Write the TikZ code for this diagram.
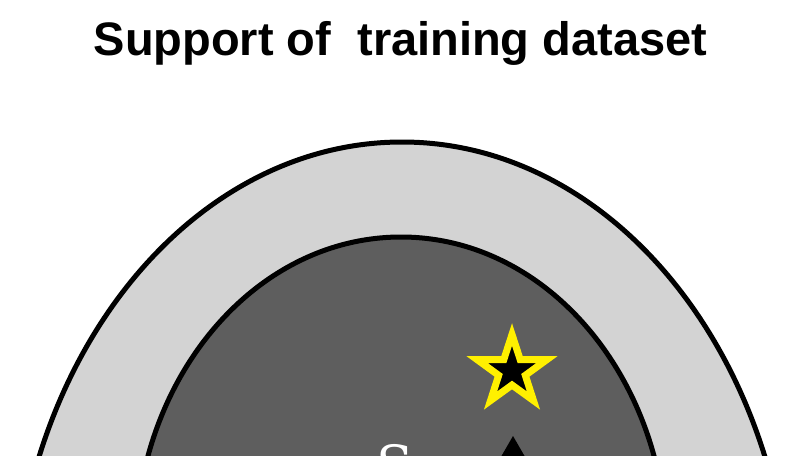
\documentclass[tikz,border=0pt]{standalone}
\usepackage{fontspec}
\newfontfamily\titlefont{Liberation Sans}
\newfontfamily\setfont{DejaVu Serif}
\definecolor{outergray}{RGB}{211,211,211}
\definecolor{innergray}{RGB}{94,94,94}
\definecolor{staryellow}{RGB}{255,240,0}
\begin{document}
\begin{tikzpicture}[x=1pt,y=-1pt,
  region/.style={draw=black,line width=5pt},
  titlestyle/.style={inner sep=0pt,anchor=base,font=\titlefont\bfseries\fontsize{47}{50}\selectfont},
  setstyle/.style={inner sep=0pt,anchor=base,text=white,font=\setfont\fontsize{54}{60}\selectfont},
  starmark/.style={draw=staryellow,fill=black,line width=7pt,miter limit=10},
  trimark/.style={fill=black}]
\useasboundingbox (0,0) rectangle (808,455);
\fill[white] (0,0) rectangle (808,455);
\begin{scope}
\clip (0,0) rectangle (808,455);
\draw[region,fill=outergray] (402,639) ellipse [x radius=390pt,y radius=497pt];
\draw[region,fill=innergray] (401,554) ellipse [x radius=266pt,y radius=317pt];
\node[setstyle] (setlabel) at (395,484) {S};
\fill[trimark] (513,436) -- (543,488) -- (483,488) -- cycle;
\begin{scope}[shift={(512,371)}]
\draw[starmark] (-90:36.5) -- (-54:14) -- (-18:36.5) -- (18:14) -- (54:36.5)
  -- (90:14) -- (126:36.5) -- (162:14) -- (198:36.5) -- (234:14) -- cycle;
\end{scope}
\end{scope}
\node[titlestyle] (title) at (400.5,55) {Support of\ \ training dataset};
\end{tikzpicture}
\end{document}
